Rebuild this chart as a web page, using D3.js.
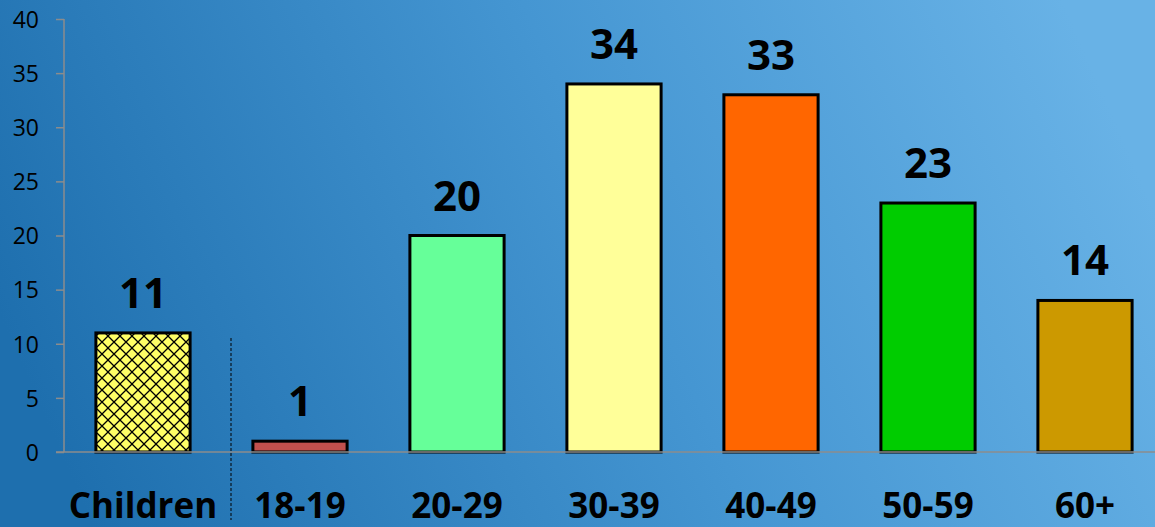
<!DOCTYPE html>
<html><head><meta charset="utf-8">
<script src="https://cdn.jsdelivr.net/npm/d3@7"></script>
<style>html,body{margin:0;padding:0;overflow:hidden;}</style>
</head><body>
<svg id="chart" width="1155" height="527"></svg>
<script>
const categories = ["Children","18-19","20-29","30-39","40-49","50-59","60+"];
const values = [11,1,20,34,33,23,14];
const colors = ["url(#hatch)","#c0504d","#66ff99","#ffff99","#ff6600","#00cc00","#cc9900"];
const yTicks = [0,5,10,15,20,25,30,35,40];

const svg = d3.select("#chart");
const W = 1155, H = 527;
const defs = svg.append("defs");
const grad = defs.append("linearGradient").attr("id","bg").attr("x1","0").attr("y1","0.6").attr("x2","1").attr("y2","0.4");
grad.append("stop").attr("offset","0").attr("stop-color","#1e6fae");
grad.append("stop").attr("offset","0.55").attr("stop-color","#4596d2");
grad.append("stop").attr("offset","1").attr("stop-color","#68b2e6");
svg.append("rect").attr("width",W).attr("height",H).attr("fill","url(#bg)");

const pat = defs.append("pattern").attr("id","hatch").attr("patternUnits","userSpaceOnUse")
  .attr("width",12).attr("height",12).attr("x",96).attr("y",0);
pat.append("rect").attr("width",12).attr("height",12).attr("fill","#ffff66");
pat.append("path").attr("d","M0,0L12,12M12,0L0,12").attr("stroke","#000").attr("stroke-width",1.3);

const x = d3.scaleBand().domain(categories).range([64.5,1163.5]).paddingInner(0.4).paddingOuter(0.2);
const y = d3.scaleLinear().domain([0,40]).range([452,19]);

// y axis
const yAxis = svg.append("g").attr("transform","translate(64,0)")
  .call(d3.axisLeft(y).tickValues(yTicks).tickSize(8).tickPadding(17));
yAxis.attr("font-size",null).attr("font-family",null);
yAxis.select(".domain").attr("stroke","#8c8c8c").attr("stroke-width",1.5).attr("d","M0,"+y(40)+"V"+y(0));
yAxis.selectAll(".tick line").attr("stroke","#8c8c8c").attr("stroke-width",1.5);
yAxis.selectAll(".tick text").attr("fill","#000")
  .style("font-family","'Open Sans', sans-serif").style("font-size","23px").attr("dy","0.36em");

// bars
svg.append("g").selectAll("rect").data(values).join("rect")
  .attr("x",(d,i)=>x(categories[i]))
  .attr("y",d=>y(d))
  .attr("width",x.bandwidth())
  .attr("height",d=>y(0)-y(d))
  .attr("fill",(d,i)=>colors[i])
  .attr("stroke","#000").attr("stroke-width",3);

// x axis line
svg.append("line").attr("x1",56).attr("x2",W).attr("y1",y(0)).attr("y2",y(0))
  .attr("stroke","#8c8c8c").attr("stroke-width",1.5);

// dashed separator
const sepX = 231;
svg.append("line").attr("x1",sepX).attr("x2",sepX).attr("y1",338).attr("y2",520)
  .attr("stroke","#000").attr("stroke-width",1).attr("stroke-dasharray","3,2");

// value labels
svg.append("g").selectAll("text").data(values).join("text")
  .attr("x",(d,i)=>x(categories[i])+x.bandwidth()/2)
  .attr("y",d=>y(d)-25)
  .attr("text-anchor","middle")
  .style("font-family","'Open Sans', sans-serif").style("font-weight","bold").style("font-size","42px")
  .attr("fill","#000").text(d=>d);

// category labels
svg.append("g").selectAll("text").data(categories).join("text")
  .attr("x",d=>x(d)+x.bandwidth()/2)
  .attr("y",518)
  .attr("text-anchor","middle")
  .style("font-family","'Open Sans', sans-serif").style("font-weight","bold").style("font-size","35px")
  .attr("fill","#000").text(d=>d);
</script>
</body></html>
